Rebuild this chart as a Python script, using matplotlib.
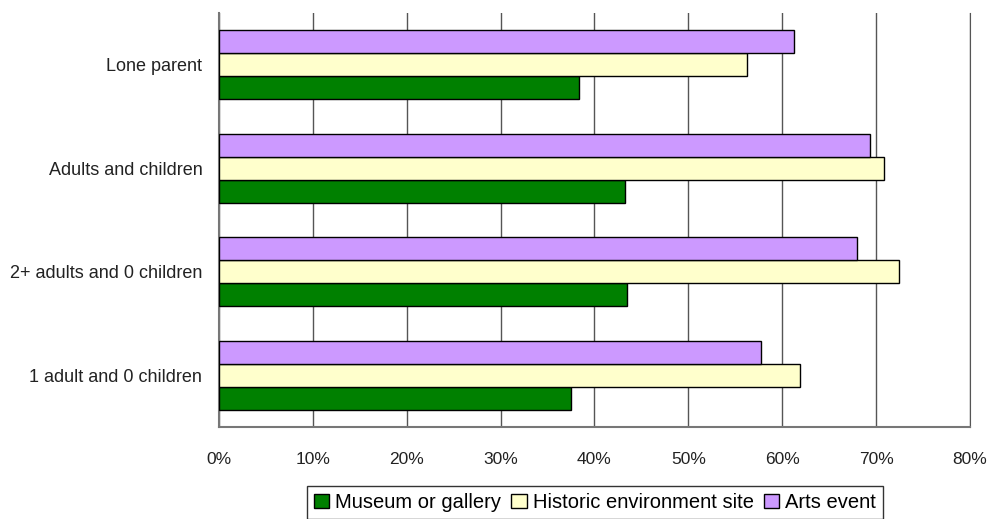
import numpy as np
import matplotlib
matplotlib.use("Agg")
import matplotlib.pyplot as plt
from matplotlib.ticker import FuncFormatter

plt.rcParams['font.family'] = ['Liberation Sans', 'DejaVu Sans']

# household types, bottom to top
households = ["1 adult and 0 children", "2+ adults and 0 children",
              "Adults and children", "Lone parent"]
museum = [37.5, 43.5, 43.2, 38.3]
historic = [61.9, 72.4, 70.8, 56.2]
arts = [57.7, 68.0, 69.3, 61.3]

series = [("Museum or gallery", museum, "#008000"),
          ("Historic environment site", historic, "#FFFFCC"),
          ("Arts event", arts, "#CC99FF")]

fig = plt.figure(figsize=(9.89, 5.19), dpi=100)
ax = fig.add_axes([0.2214, 0.1773, 0.7594, 0.7977])

y = np.arange(len(households))
h = 0.222
for i, (name, vals, col) in enumerate(series):
    ax.barh(y + (i - 1) * h, vals, height=h, color=col,
            edgecolor="black", linewidth=1.0, label=name, zorder=3)

ax.set_xlim(0, 80)
ax.set_ylim(-0.5, 3.5)
ax.set_xticks(np.arange(0, 81, 10))
ax.xaxis.set_major_formatter(FuncFormatter(lambda v, p: f"{v:.0f}%"))
ax.set_yticks(y)
ax.set_yticklabels(households)
ax.tick_params(axis="x", length=0, pad=18, labelsize=12.5, colors="#222222")
ax.tick_params(axis="y", length=0, pad=12, labelsize=13, colors="#222222")

ax.grid(axis="x", color="#555555", linewidth=1.0, zorder=0)
ax.set_axisbelow(True)
ax.spines["top"].set_visible(False)
ax.spines["right"].set_color("#555555")
ax.spines["left"].set_color("#777777")
ax.spines["left"].set_linewidth(1.5)
ax.spines["bottom"].set_color("#777777")
ax.spines["bottom"].set_linewidth(1.5)

leg = fig.legend(loc="upper center", bbox_to_anchor=(0.6016, 1 - 486 / 519),
                 ncol=3, fontsize=14.5, frameon=True, fancybox=False,
                 handlelength=0.75, handleheight=0.75, handletextpad=0.3,
                 columnspacing=0.5, borderpad=0.35, borderaxespad=0)
leg.get_frame().set_edgecolor("black")
leg.get_frame().set_linewidth(1.0)

fig.savefig("out.png", dpi=100)
